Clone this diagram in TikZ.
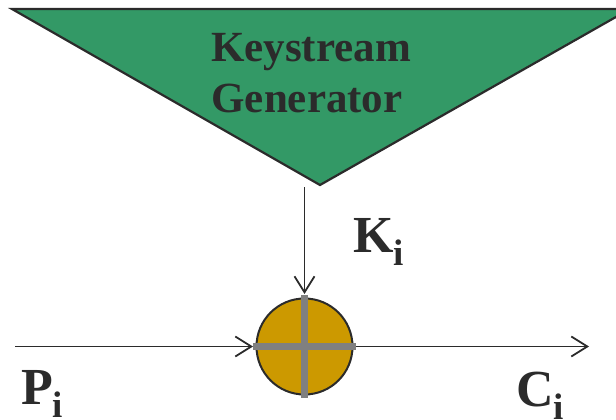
\documentclass[tikz,border=0pt]{standalone}
\usepackage{fontspec}
\setmainfont{Liberation Serif}
\usetikzlibrary{arrows.meta}
\definecolor{kgreen}{HTML}{339966}
\definecolor{xgold}{HTML}{CC9900}
\definecolor{xgray}{HTML}{808080}
\definecolor{ink}{HTML}{2B2B2B}
\tikzset{
  arr/.style={draw=ink, line width=1.8pt, -{Straight Barb[length=16pt,width=20pt,line width=1.8pt]}},
  crossbar/.style={draw=xgray, line width=7.5pt},
  lbl/.style={text=ink, font=\bfseries\fontsize{52}{52}\selectfont, inner sep=0pt, anchor=base west},
}
\newcommand{\subi}{\raisebox{-13pt}{\fontsize{37}{37}\selectfont i}}
\begin{document}
\begin{tikzpicture}[x=1pt,y=-1pt]
\useasboundingbox (0,0) rectangle (616,420);
\clip (0,0) rectangle (616,420);
% keystream generator triangle
\draw[fill=kgreen, draw=ink, line width=2.2pt, line join=miter] (12,9) -- (630,9) -- (320,185) -- cycle;
\coordinate (apex) at (320,185);
\node[text=ink, font=\bfseries\fontsize{43}{51}\selectfont, inner sep=0pt, anchor=base] (kg1) at (311,62) {Keystream};
\node[text=ink, font=\bfseries\fontsize{43}{51}\selectfont, inner sep=0pt, anchor=base] (kg2) at (307,113) {Generator};
% xor
\node[circle, fill=xgold, draw=ink, line width=2pt, minimum size=96pt, inner sep=0pt] (xor) at (304.5,346.5) {};
\draw[crossbar] (304.5,295) -- (304.5,398);
\draw[crossbar] (253,346.5) -- (356,346.5);
% connectors
\coordinate (ktop) at (304.5,187);
\coordinate (kend) at (304.5,294);
\coordinate (pin) at (15,346.5);
\coordinate (pend) at (253,346.5);
\coordinate (cstart) at (356,346.5);
\coordinate (cout) at (589,346.5);
\draw[arr] (ktop) -- (kend);
\draw[arr] (pin) -- (pend);
\draw[arr] (cstart) -- (cout);
% labels
\node[lbl] (ki) at (353,252) {K\subi};
\node[lbl] (pi) at (21,404) {P\subi};
\node[lbl] (ci) at (516,406) {C\subi};
\end{tikzpicture}
\end{document}
